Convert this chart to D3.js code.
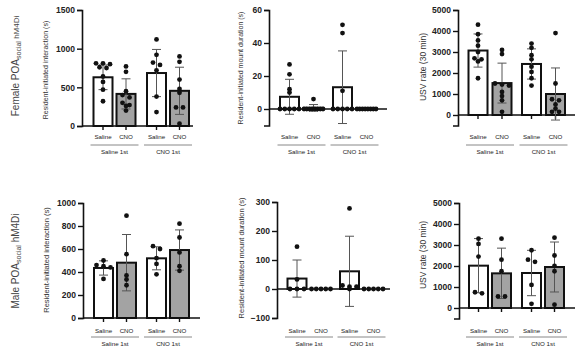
<!DOCTYPE html>
<html>
<head>
<meta charset="utf-8">
<script src="https://cdn.jsdelivr.net/npm/d3@7"></script>
<style>
  body { margin: 0; background: #fff; }
  text { font-family: "Liberation Sans", Arial, sans-serif; }
</style>
</head>
<body>
<div id="myVis"></div>
<script>
var width = 584;
var height = 352;

var conditions = ["Saline", "CNO"];
var groups = ["Saline 1st", "CNO 1st"];
// bar order: Saline 1st/Saline, Saline 1st/CNO, CNO 1st/Saline, CNO 1st/CNO

// female, resident-initiated interaction (s)
var femInterMean = [630, 415, 685, 455];
var femInterSd = [160, 195, 305, 305];
var femInterPts = [
  [810, 810, 800, 760, 750, 640, 570, 470, 320],
  [770, 700, 450, 400, 370, 300, 270, 260, 200],
  [1120, 920, 820, 790, 720, 380, 180],
  [900, 830, 600, 480, 430, 240, 240, 30]
];

// female, resident-initiated mount duration (s)
var femMountMean = [7.4, 0.7, 13.2, 0];
var femMountSd = [10.6, 2, 22, 0];
var femMountPts = [
  [27, 21, 12, 10, 0, 0, 0, 0, 0],
  [6, 0, 0, 0, 0, 0, 0, 0, 0],
  [51, 46, 11, 0, 0, 0, 0, 0],
  [0, 0, 0, 0, 0, 0, 0, 0]
];

// female, USV rate (30 min)
var femUsvMean = [3070, 1520, 2430, 1000];
var femUsvSd = [790, 950, 720, 1240];
var femUsvPts = [
  [4300, 3850, 3550, 3300, 3000, 2700, 2650, 2550, 1750],
  [3100, 2900, 1500, 1450, 1400, 1100, 900, 700, 150],
  [3400, 3200, 2850, 2650, 2300, 2050, 1750, 1400],
  [3900, 1500, 750, 700, 500, 300, 150, 150]
];

// male, resident-initiated interaction (s)
var maleInterMean = [435, 481, 519, 591];
var maleInterSd = [62, 245, 100, 175];
var maleInterPts = [
  [500, 460, 450, 440, 340],
  [890, 555, 370, 335, 285],
  [625, 600, 520, 470, 380],
  [820, 700, 570, 450, 410]
];

// male, resident-initiated mount duration (s)
var maleMountMean = [36, 0, 61, 0];
var maleMountSd = [64, 0, 121, 0];
var maleMountPts = [
  [146, 33, 0, 0, 0],
  [0, 0, 0, 0, 0],
  [278, 12, 8, 8, 0],
  [0, 0, 0, 0, 0]
];

// male, USV rate (30 min)
var maleUsvMean = [2016, 1650, 1667, 1952];
var maleUsvSd = [1290, 1200, 1080, 1190];
var maleUsvPts = [
  [3300, 3050, 2450, 700, 750],
  [3300, 2300, 1750, 550, 550],
  [2750, 2300, 2200, 1100, 200],
  [3350, 2500, 2000, 1750, 160]
];

var rowLabels = ["Female", "Male"];

var panels = [
  { mean: femInterMean, sd: femInterSd, pts: femInterPts, domain: [0, 1500], ticks: [0, 500, 1000, 1500],
    range: [126, 10], x0: 82, xEnd: 193, g: [114.5, 168], inner: 11.5, labY: 137, lineY: 145, grpY: 152,
    title: "Resident-initiated interaction (s)", tx: 46, ty: 70, ts: 7, xTicks: true },
  { mean: femMountMean, sd: femMountSd, pts: femMountPts, domain: [-10, 60], ticks: [0, 20, 40, 60],
    range: [125.5, 10], x0: 269, xEnd: 387, g: [301.5, 354.5], inner: 12, labY: 137, lineY: 145, grpY: 152,
    title: "Resident-initiated mount duration (s)", tx: 241, ty: 68, ts: 7, xTicks: false },
  { mean: femUsvMean, sd: femUsvSd, pts: femUsvPts, domain: [-500, 5000], ticks: [0, 1000, 2000, 3000, 4000, 5000],
    range: [125.5, 10], x0: 458, xEnd: 575, g: [490, 543.5], inner: 12, labY: 137, lineY: 145, grpY: 152,
    title: "USV rate (30 min)", tx: 423, ty: 67, ts: 8.5, xTicks: true },
  { mean: maleInterMean, sd: maleInterSd, pts: maleInterPts, domain: [0, 1000], ticks: [0, 200, 400, 600, 800, 1000],
    range: [318, 203], x0: 83, xEnd: 200, g: [115, 168], inner: 11.5, labY: 331, lineY: 337, grpY: 344,
    title: "Resident-initiated interaction (s)", tx: 46, ty: 260, ts: 7.5, xTicks: true },
  { mean: maleMountMean, sd: maleMountSd, pts: maleMountPts, domain: [-100, 300], ticks: [-100, 0, 100, 200, 300],
    range: [318, 202], x0: 277, xEnd: 390, g: [309, 361.5], inner: 12, labY: 331, lineY: 337, grpY: 344,
    title: "Resident-initiated mount duration (s)", tx: 241, ty: 258, ts: 7.5, xTicks: false },
  { mean: maleUsvMean, sd: maleUsvSd, pts: maleUsvPts, domain: [-500, 5000], ticks: [0, 1000, 2000, 3000, 4000, 5000],
    range: [318.5, 203], x0: 459, xEnd: 575, g: [490, 543], inner: 11.5, labY: 331, lineY: 337, grpY: 344,
    title: "USV rate (30 min)", tx: 423, ty: 255, ts: 8.5, xTicks: true }
];

var barW = 19;
var fills = ["#ffffff", "#a3a3a3"];

var svg = d3.select("#myVis")
  .append("svg")
  .attr("width", width)
  .attr("height", height);

// spread dots sideways when they sit at about the same height
function spread(values, y) {
  var sorted = values.slice().sort(function (a, b) { return b - a; });
  var rows = [];
  sorted.forEach(function (v) {
    var last = rows[rows.length - 1];
    if (last && Math.abs(y(last[0]) - y(v)) < 3) last.push(v);
    else rows.push([v]);
  });
  var out = [];
  rows.forEach(function (r) {
    var k = r.length;
    var step = k > 1 ? Math.min(7, barW / (k - 1)) : 0;
    r.forEach(function (v, i) { out.push({ v: v, dx: (i - (k - 1) / 2) * step }); });
  });
  return out;
}

panels.forEach(function (p) {
  var g = svg.append("g");
  var y = d3.scaleLinear().domain(p.domain).range(p.range);
  var gx = d3.scaleOrdinal().domain(groups).range(p.g);
  var cx = d3.scalePoint().domain(conditions).range([-p.inner, p.inner]);

  var bars = [];
  groups.forEach(function (gr, gi) {
    conditions.forEach(function (c, ci) {
      var i = gi * 2 + ci;
      bars.push({ x: gx(gr) + cx(c), ci: ci, mean: p.mean[i], sd: p.sd[i], pts: p.pts[i] });
    });
  });

  // y axis
  var axis = d3.axisLeft(y).tickValues(p.ticks).tickSize(5).tickPadding(2).tickFormat(d3.format("d"));
  var ax = g.append("g").attr("transform", "translate(" + p.x0 + ",0)").call(axis);
  ax.select(".domain").attr("stroke", "#111").attr("stroke-width", 1.6);
  ax.selectAll(".tick line").attr("stroke", "#111").attr("stroke-width", 1.4);
  ax.selectAll(".tick text").attr("fill", "#222").style("font-size", "8.5px").style("font-weight", "bold")
    .style("font-family", "'Liberation Sans', Arial, sans-serif");

  // bars
  g.selectAll(".bar").data(bars).enter().append("rect")
    .attr("x", function (d) { return d.x - barW / 2; })
    .attr("y", function (d) { return Math.min(y(d.mean), y(0)); })
    .attr("width", barW)
    .attr("height", function (d) { return Math.abs(y(0) - y(d.mean)); })
    .attr("fill", function (d) { return fills[d.ci]; })
    .attr("stroke", "#111")
    .attr("stroke-width", 2);

  // x axis line
  g.append("line")
    .attr("x1", p.x0).attr("x2", p.xEnd)
    .attr("y1", y(0)).attr("y2", y(0))
    .attr("stroke", "#111").attr("stroke-width", 1.6);

  if (p.xTicks) {
    g.selectAll(".xt").data(bars).enter().append("line")
      .attr("x1", function (d) { return d.x; }).attr("x2", function (d) { return d.x; })
      .attr("y1", y(0)).attr("y2", y(0) + 4)
      .attr("stroke", "#111").attr("stroke-width", 1.4);
  }

  // error bars (mean +/- SD)
  bars.forEach(function (d) {
    if (d.sd <= 0) return;
    var top = y(d.mean + d.sd), bot = y(d.mean - d.sd);
    g.append("line").attr("x1", d.x).attr("x2", d.x).attr("y1", top).attr("y2", bot)
      .attr("stroke", "#555").attr("stroke-width", 1);
    [top, bot].forEach(function (yy) {
      g.append("line").attr("x1", d.x - 4.5).attr("x2", d.x + 4.5).attr("y1", yy).attr("y2", yy)
        .attr("stroke", "#555").attr("stroke-width", 1);
    });
  });

  // individual animals
  bars.forEach(function (d) {
    g.selectAll(null).data(spread(d.pts, y)).enter().append("circle")
      .attr("cx", function (q) { return d.x + q.dx; })
      .attr("cy", function (q) { return y(q.v); })
      .attr("r", 2.4)
      .attr("fill", "#111");
  });

  // condition labels
  bars.forEach(function (d) {
    g.append("text").attr("x", d.x).attr("y", p.labY).attr("dy", "0.35em")
      .attr("text-anchor", "middle").attr("fill", "#222").style("font-size", "6.2px")
      .text(conditions[d.ci]);
  });

  // group labels with underline
  groups.forEach(function (gr) {
    g.append("line").attr("x1", gx(gr) - 24).attr("x2", gx(gr) + 24)
      .attr("y1", p.lineY).attr("y2", p.lineY).attr("stroke", "#888").attr("stroke-width", 1);
    g.append("text").attr("x", gx(gr)).attr("y", p.grpY).attr("dy", "0.35em")
      .attr("text-anchor", "middle").attr("fill", "#222").style("font-size", "6.2px")
      .text(gr);
  });

  // y title
  g.append("text")
    .attr("transform", "translate(" + p.tx + "," + p.ty + ") rotate(-90)")
    .attr("text-anchor", "middle").attr("dy", "0.35em")
    .attr("fill", "#333").style("font-size", p.ts + "px")
    .text(p.title);
});

// row labels
var rowY = [66, 261];
var rowTail = [8, 10];
rowLabels.forEach(function (lab, i) {
  var t = svg.append("text")
    .attr("transform", "translate(15," + rowY[i] + ") rotate(-90)")
    .attr("text-anchor", "middle").attr("dy", "0.35em")
    .attr("fill", "#444").style("font-size", "10px");
  t.append("tspan").text(lab + " POA");
  t.append("tspan").attr("dy", 2.5).style("font-size", "7px").text("social");
  t.append("tspan").attr("dy", -2.5).style("font-size", rowTail[i] + "px").text(" hM4Di");
});
</script>
</body>
</html>
